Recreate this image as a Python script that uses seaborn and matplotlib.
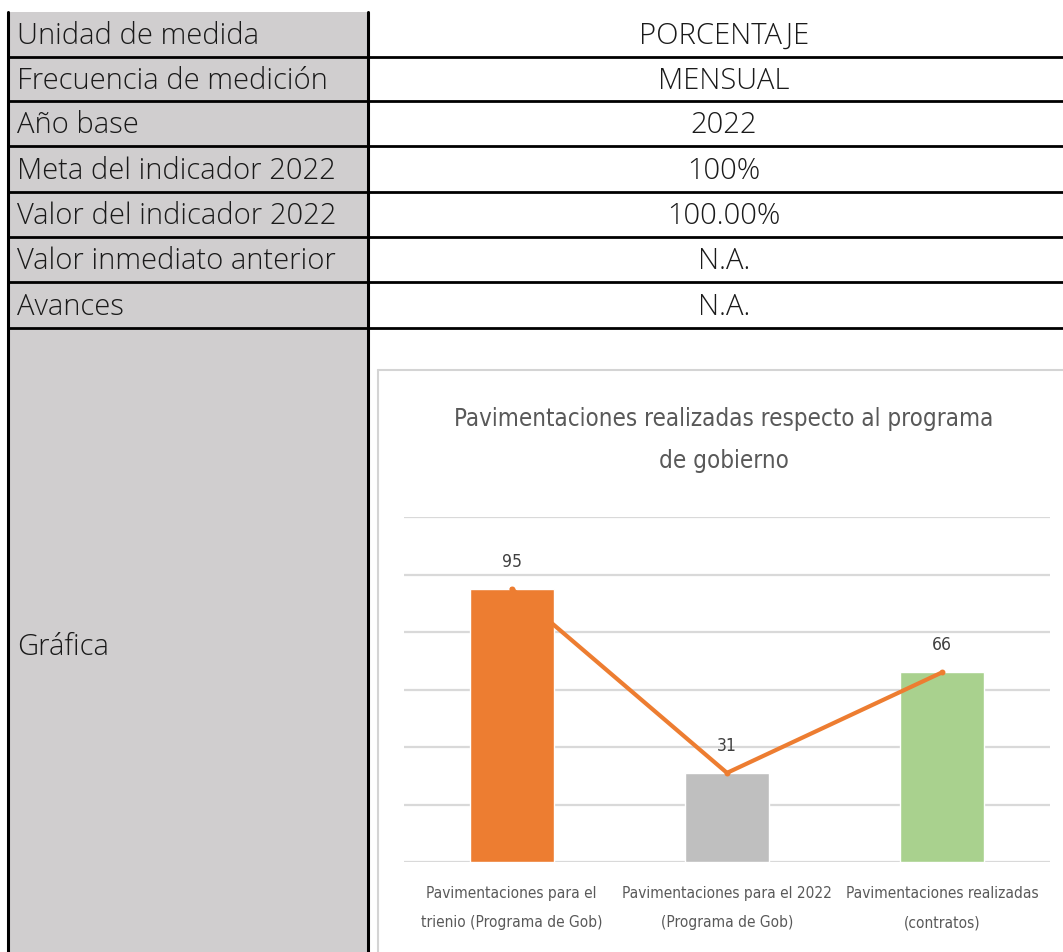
import matplotlib
matplotlib.use('Agg')
import matplotlib.pyplot as plt
import seaborn as sns
from matplotlib import font_manager
from matplotlib.patches import Rectangle

# Table data
row_labels = ['Unidad de medida', 'Frecuencia de medición', 'Año base',
              'Meta del indicador 2022', 'Valor del indicador 2022',
              'Valor inmediato anterior', 'Avances']
row_values = ['PORCENTAJE', 'MENSUAL', '2022', '100%', '100.00%', 'N.A.', 'N.A.']
graph_label = 'Gráfica'

# Chart data
chart_title = 'Pavimentaciones realizadas respecto al programa\nde gobierno'
categories = ['Pavimentaciones para el\ntrienio (Programa de Gob)',
              'Pavimentaciones para el 2022\n(Programa de Gob)',
              'Pavimentaciones realizadas\n(contratos)']
values = [95, 31, 66]
bar_colors = ['#ED7D31', '#BFBFBF', '#A9D18E']
y_ticks = [0, 20, 40, 60, 80, 100, 120]

W, H = 1063, 952
available = {f.name for f in font_manager.fontManager.ttflist}
table_font = 'Open Sans' if 'Open Sans' in available else 'DejaVu Sans'

# look for a condensed sans face (the chart uses a narrow Calibri-like font)
narrow = None
for f in font_manager.fontManager.ttflist:
    if ('Narrow' in f.name or 'Condensed' in f.name or
            'condensed' in str(f.stretch)) and f.weight in (400, 'normal', 'regular') \
            and f.style == 'normal':
        narrow = f
        break
if narrow is not None:
    chart_fp = dict(fname=narrow.fname)
    title_size, tick_size, label_size = 17.3, 11.1, 12.5
else:
    chart_fp = dict(family='Liberation Sans')
    title_size, tick_size, label_size = 17.5, 11.8, 12.5

sns.set_style('white')
plt.rcParams['font.family'] = [table_font, 'DejaVu Sans']

fig = plt.figure(figsize=(W / 100, H / 100), dpi=100)
bg = fig.add_axes([0, 0, 1, 1])
bg.set_xlim(0, W)
bg.set_ylim(H, 0)
bg.axis('off')

# table frame
row_edges = [12, 57, 101, 146, 192, 237, 282, 328]
bg.add_patch(Rectangle((8, 12), 360, H, facecolor='#D0CECF', edgecolor='none'))
for y in row_edges[1:]:
    bg.plot([8, W], [y, y], color='black', lw=2, solid_capstyle='butt')
bg.plot([8, 8], [12, H], color='black', lw=2.2)
bg.plot([368, 368], [12, H], color='black', lw=2.2)

for i, (lab, val) in enumerate(zip(row_labels, row_values)):
    yc = (row_edges[i] + row_edges[i + 1]) / 2 + 2
    bg.text(17, yc, lab, fontsize=21, fontweight='light', color='#1a1a1a',
            va='center', ha='left')
    bg.text(724, yc, val, fontsize=21, fontweight='light', color='#1a1a1a',
            va='center', ha='center')
bg.text(17, 647, graph_label, fontsize=21, fontweight='light', color='#1a1a1a',
        va='center', ha='left')

# embedded chart frame
bg.plot([378, W], [370, 370], color='#D4D4D4', lw=1.5)
bg.plot([378, 378], [370, H], color='#D4D4D4', lw=1.5)

title_fp = font_manager.FontProperties(size=title_size, **chart_fp)
bg.text(724, 440, chart_title, fontproperties=title_fp, color='#595959',
        ha='center', va='center', linespacing=1.9)

# chart axes
ax = fig.add_axes([404 / W, 1 - 862 / H, (1050 - 404) / W, (862 - 517) / H])
sns.barplot(x=categories, y=values, hue=categories, palette=bar_colors,
            width=0.39, legend=False, ax=ax, saturation=1)
bar_containers = list(ax.containers)
sns.pointplot(x=categories, y=values, color='#ED7D31', linewidth=3,
              markersize=2, ax=ax)
ax.set_ylim(0, 120)
ax.set_xlim(-0.5, 2.5)
ax.set_yticks(y_ticks)
ax.set_yticklabels([])
ax.yaxis.grid(True, color='#D9D9D9', lw=1.6)
ax.set_axisbelow(True)
for s in ax.spines.values():
    s.set_visible(False)
ax.tick_params(axis='both', length=0)
ax.tick_params(axis='x', pad=17)
tick_fp = font_manager.FontProperties(size=tick_size, **chart_fp)
for t in ax.get_xticklabels():
    t.set_fontproperties(tick_fp)
    t.set_color('#595959')
    t.set_linespacing(2.2)
label_fp = font_manager.FontProperties(size=label_size, **chart_fp)
for cont in bar_containers:
    ax.bar_label(cont, fmt='%.0f', padding=13, fontproperties=label_fp,
                 color='#404040')
ax.set_xlabel('')
ax.set_ylabel('')

fig.savefig('out.png', dpi=100)
